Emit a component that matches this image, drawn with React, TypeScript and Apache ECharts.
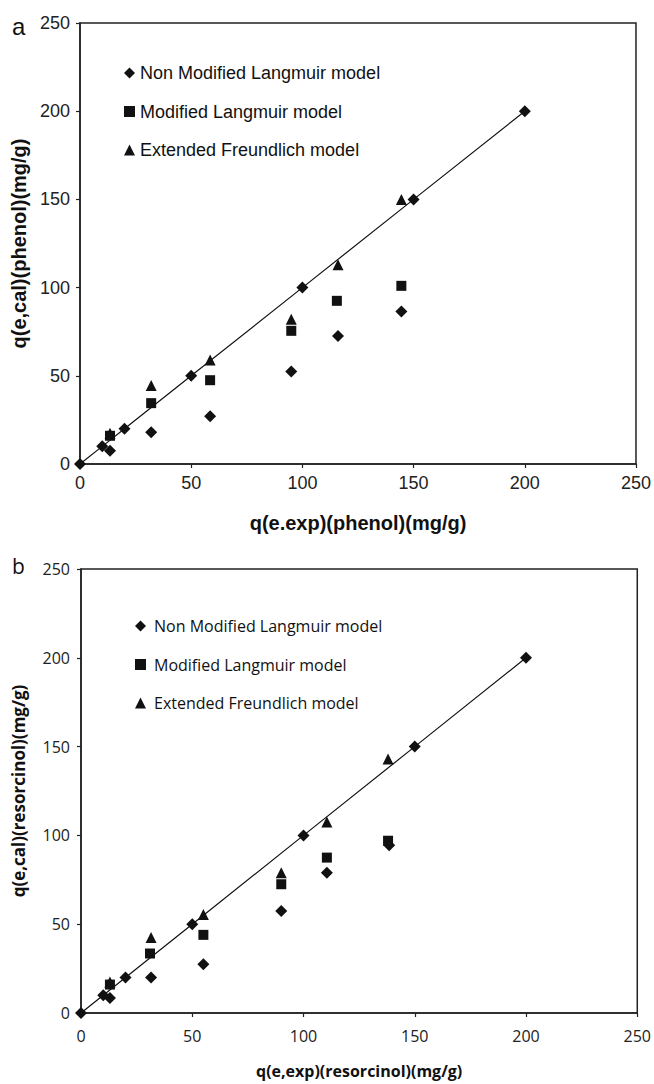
import React, { useEffect, useRef } from "react";
import * as echarts from "echarts";

// Reference (y = x) line points, both panels
const refX = [0, 10, 20, 50, 100, 150, 200];
const refY = [0, 10, 20, 50, 100, 150, 200];

// Panel a: phenol
const phenolNonModX = [13.5, 32, 58.5, 95, 116, 144.5];
const phenolNonModY = [7.5, 18, 27, 52.5, 72.5, 86.5];
const phenolModX = [13.5, 32, 58.5, 95, 115.5, 144.5];
const phenolModY = [16, 34.5, 47.5, 75.5, 92.5, 101];
const phenolExtX = [13.5, 32, 58.5, 95, 116, 144.5];
const phenolExtY = [17.5, 44.5, 59, 82, 113, 150];

// Panel b: resorcinol
const resNonModX = [13, 31.5, 55, 90, 110.5, 138.5];
const resNonModY = [8.5, 20, 27.5, 57.5, 79, 94.5];
const resModX = [13, 31, 55, 90, 110.5, 138];
const resModY = [16, 33.5, 44, 72.5, 87.5, 97];
const resExtX = [13, 31.5, 55, 90, 110.5, 138];
const resExtY = [17.5, 42.5, 55.5, 79, 107.5, 143];

const seriesNames = [
  "Non Modified Langmuir model",
  "Modified Langmuir model",
  "Extended Freundlich model",
];
const symbols = ["diamond", "rect", "triangle"];
const symbolSizes = [12, 10, 11];

const axisMin = 0;
const axisMax = 250;
const axisStep = 50;

const zip = (xs: number[], ys: number[]) => xs.map((x, i) => [x, ys[i]]);

const FONT_A = "'Liberation Sans', Arial, sans-serif";
const FONT_B = "'Open Sans', 'Noto Sans', sans-serif";
const INK = "#111";

function makeAxis(
  gridIndex: number,
  isX: boolean,
  name: string,
  font: string,
  labelSize: number,
  nameSize: number,
  margin: number,
  nameGap: number
) {
  return {
    type: "value",
    gridIndex,
    min: axisMin,
    max: axisMax,
    interval: axisStep,
    name,
    nameLocation: "middle",
    nameGap,
    nameRotate: isX ? 0 : 90,
    nameTextStyle: {
      fontFamily: font,
      fontWeight: "bold",
      fontSize: nameSize,
      color: INK,
    },
    axisLine: { show: true, onZero: false, lineStyle: { color: "#222", width: 1.5 } },
    axisTick: { show: true, inside: false, length: 4, lineStyle: { color: "#222", width: 1.2 } },
    axisLabel: { fontFamily: font, fontSize: labelSize, color: "#222", margin },
    splitLine: { show: false },
  };
}

function scatterSeries(gridIdx: number, data: number[][][]) {
  return data.map((d, i) => ({
    type: "scatter",
    name: seriesNames[i],
    xAxisIndex: gridIdx,
    yAxisIndex: gridIdx,
    symbol: symbols[i],
    symbolSize: symbolSizes[i],
    itemStyle: { color: INK, opacity: 1 },
    data: d,
    z: 3,
  }));
}

function refSeries(gridIdx: number) {
  return {
    type: "line",
    name: "y = x",
    xAxisIndex: gridIdx,
    yAxisIndex: gridIdx,
    symbol: "diamond",
    symbolSize: 12,
    itemStyle: { color: INK, opacity: 1 },
    lineStyle: { color: INK, width: 1.2 },
    data: zip(refX, refY),
    z: 2,
  };
}

export default function App() {
  const ref = useRef<HTMLDivElement>(null);
  useEffect(() => {
    if (!ref.current) return;
    const chart = echarts.init(ref.current, null, { renderer: "svg" });
    const legendData = seriesNames.map((n, i) => ({ name: n, icon: symbols[i] }));
    chart.setOption({
      animation: false,
      backgroundColor: "#fff",
      grid: [
        { left: 80, top: 23, width: 556, height: 441, show: true, borderColor: "#222", borderWidth: 1.5, backgroundColor: "transparent" },
        { left: 81, top: 569, width: 557, height: 444, show: true, borderColor: "#222", borderWidth: 1.5, backgroundColor: "transparent" },
      ],
      xAxis: [
        makeAxis(0, true, "q(e.exp)(phenol)(mg/g)", FONT_A, 18, 20, 10, 49),
        makeAxis(1, true, "q(e,exp)(resorcinol)(mg/g)", FONT_B, 16, 16, 15, 50),
      ],
      yAxis: [
        makeAxis(0, false, "q(e,cal)(phenol)(mg/g)", FONT_A, 18, 20, 10, 50),
        makeAxis(1, false, "q(e,cal)(resorcinol)(mg/g)", FONT_B, 16, 17, 11, 54),
      ],
      legend: [
        {
          orient: "vertical",
          left: 119,
          top: 58,
          itemWidth: 11,
          itemHeight: 11,
          itemGap: 18.5,
          selectedMode: false,
          data: legendData,
          itemStyle: { opacity: 1 },
          textStyle: { fontFamily: FONT_A, fontSize: 18, color: INK, lineHeight: 20 },
        },
        {
          orient: "vertical",
          left: 130,
          top: 611,
          itemWidth: 11,
          itemHeight: 11,
          itemGap: 18.5,
          selectedMode: false,
          data: legendData,
          itemStyle: { opacity: 1 },
          textStyle: { fontFamily: FONT_B, fontSize: 16, color: INK, lineHeight: 20, padding: [0, 0, 0, 3] },
        },
      ],
      graphic: [
        { type: "text", left: 12, top: 14, style: { text: "a", fontFamily: FONT_A, fontSize: 24, fill: INK } },
        { type: "text", left: 12, top: 555, style: { text: "b", fontFamily: FONT_B, fontSize: 21, fill: INK } },
      ],
      series: [
        refSeries(0),
        ...scatterSeries(0, [
          zip(phenolNonModX, phenolNonModY),
          zip(phenolModX, phenolModY),
          zip(phenolExtX, phenolExtY),
        ]),
        refSeries(1),
        ...scatterSeries(1, [
          zip(resNonModX, resNonModY),
          zip(resModX, resModY),
          zip(resExtX, resExtY),
        ]),
      ],
    });
    return () => chart.dispose();
  }, []);
  return (
    <div
      ref={ref}
      style={{ position: "absolute", left: 0, top: 0, width: 654, height: 1084 }}
    />
  );
}
